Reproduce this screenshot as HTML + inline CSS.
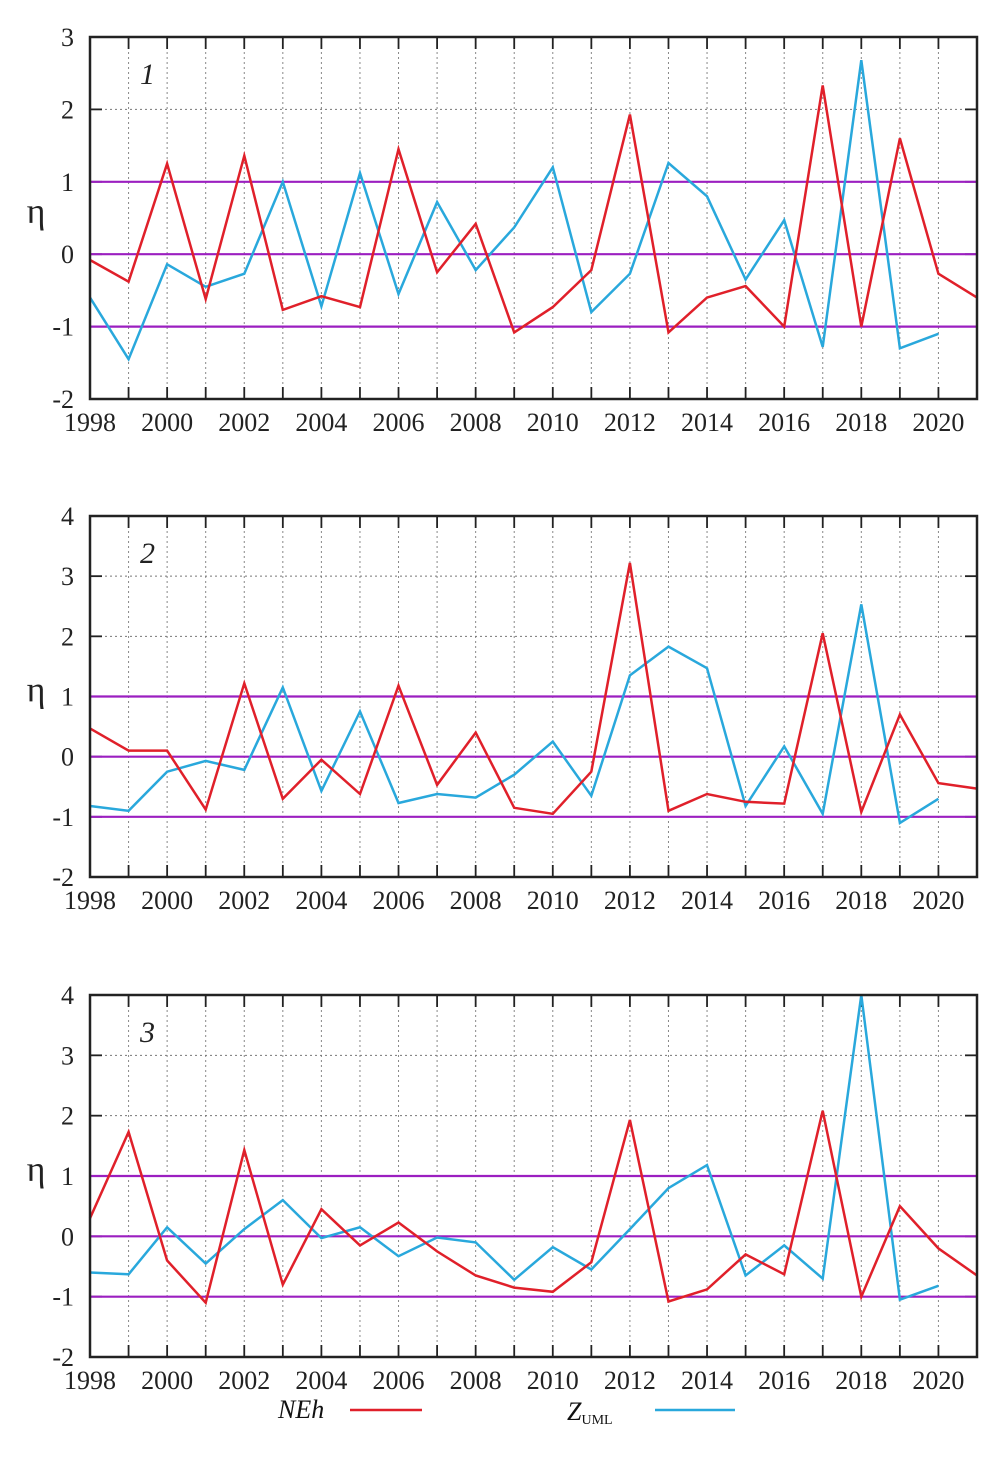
<!DOCTYPE html>
<html><head><meta charset="utf-8"><style>
html,body{margin:0;padding:0;background:#fff;}
svg{display:block;font-family:"Liberation Serif",serif;}
</style></head><body>
<svg id="chart" width="1005" height="1464" viewBox="0 0 1005 1464" xmlns="http://www.w3.org/2000/svg">
<g id="legend">
<g>
<text x="278" y="1418" font-size="26" font-style="italic" fill="#111">NEh</text>
<line x1="350" y1="1410" x2="422" y2="1410" stroke="#e0202a" stroke-width="2.5"/>
</g>
<g>
<text x="567" y="1420" font-size="26" font-style="italic" fill="#111">Z<tspan font-size="14" font-style="normal" dy="4">UML</tspan></text>
<line x1="655" y1="1410" x2="735" y2="1410" stroke="#29a8dc" stroke-width="2.5"/>
</g>
</g>
</svg>
<script>
const years = [1998,1999,2000,2001,2002,2003,2004,2005,2006,2007,2008,2009,2010,2011,2012,2013,2014,2015,2016,2017,2018,2019,2020,2021];
const xTickLabels = [1998,2000,2002,2004,2006,2008,2010,2012,2014,2016,2018,2020];
const neh1 = [-0.08,-0.38,1.25,-0.62,1.36,-0.77,-0.58,-0.73,1.45,-0.25,0.42,-1.08,-0.73,-0.22,1.93,-1.08,-0.6,-0.44,-1.0,2.33,-1.0,1.6,-0.27,-0.6];
const zuml1 = [-0.6,-1.45,-0.14,-0.45,-0.27,1.0,-0.72,1.12,-0.55,0.72,-0.22,0.37,1.2,-0.8,-0.27,1.26,0.8,-0.35,0.47,-1.28,2.68,-1.3,-1.1];
const neh2 = [0.47,0.1,0.1,-0.88,1.22,-0.7,-0.05,-0.62,1.18,-0.47,0.4,-0.85,-0.95,-0.25,3.22,-0.9,-0.62,-0.75,-0.78,2.05,-0.92,0.7,-0.44,-0.53];
const zuml2 = [-0.82,-0.9,-0.25,-0.07,-0.22,1.15,-0.57,0.75,-0.77,-0.62,-0.68,-0.3,0.25,-0.65,1.35,1.83,1.47,-0.82,0.17,-0.95,2.53,-1.1,-0.7];
const neh3 = [0.3,1.73,-0.4,-1.1,1.43,-0.8,0.45,-0.15,0.23,-0.25,-0.65,-0.85,-0.92,-0.43,1.93,-1.08,-0.88,-0.3,-0.63,2.08,-1.0,0.5,-0.2,-0.65];
const zuml3 = [-0.6,-0.63,0.15,-0.45,0.12,0.6,-0.03,0.15,-0.33,-0.02,-0.1,-0.72,-0.18,-0.55,0.12,0.8,1.18,-0.65,-0.15,-0.7,4.0,-1.05,-0.82];
const yTicks1 = [-2,-1,0,1,2,3];
const yTicks23 = [-2,-1,0,1,2,3,4];
const thresholds = [-1,0,1];

const NS = "http://www.w3.org/2000/svg";
const svg = document.getElementById('chart');
function mk(tag, attrs, parent){const e=document.createElementNS(NS,tag);for(const k in attrs)e.setAttribute(k,attrs[k]);(parent||svg).appendChild(e);return e;}

const panels = [
 {label:'1', top:37, bottom:399, ymin:-2, ymax:3, ticks:yTicks1, neh:neh1, z:zuml1},
 {label:'2', top:516, bottom:877, ymin:-2, ymax:4, ticks:yTicks23, neh:neh2, z:zuml2},
 {label:'3', top:995, bottom:1357, ymin:-2, ymax:4, ticks:yTicks23, neh:neh3, z:zuml3}
];
const L=90, R=977;
panels.forEach((p,pi)=>{
  const g = mk('g',{});
  
  
  const xs = yr => L + (yr-1998)/(2021-1998)*(R-L);
  const ys = v => p.bottom - (v-p.ymin)/(p.ymax-p.ymin)*(p.bottom-p.top);
  years.forEach(yr=>{
    if(yr===1998||yr===2021) return;
    const l=mk('line',{x1:xs(yr),x2:xs(yr),y1:p.top,y2:p.bottom,stroke:'#888','stroke-width':1,'stroke-dasharray':'2,3'},g);
    
    
    mk('line',{x1:xs(yr),x2:xs(yr),y1:p.top,y2:p.top+12,stroke:'#222','stroke-width':1.8},g);
    mk('line',{x1:xs(yr),x2:xs(yr),y1:p.bottom,y2:p.bottom-12,stroke:'#222','stroke-width':1.8},g);
  });
  p.ticks.forEach(v=>{
    if(v!==p.ymin && v!==p.ymax && thresholds.indexOf(v)<0){
      const l=mk('line',{x1:L,x2:R,y1:ys(v),y2:ys(v),stroke:'#777','stroke-width':1,'stroke-dasharray':'2,3'},g);
      
      
    }
    mk('line',{x1:L,x2:L+12,y1:ys(v),y2:ys(v),stroke:'#222','stroke-width':1.8},g);
    mk('line',{x1:R,x2:R-12,y1:ys(v),y2:ys(v),stroke:'#222','stroke-width':1.8},g);
    const t=mk('text',{x:L-16,y:ys(v)+9,'text-anchor':'end','font-size':26,fill:'#222'},g);
    t.textContent=v;
    
    
  });
  thresholds.forEach(v=>{
    const l=mk('line',{x1:L,x2:R,y1:ys(v),y2:ys(v),stroke:'#9b1fc0','stroke-width':2.2},g);
    
    
  });
  xTickLabels.forEach(yr=>{
    const t=mk('text',{x:xs(yr),y:p.bottom+32,'text-anchor':'middle','font-size':26,fill:'#222'},g);
    t.textContent=yr;
    
    
  });
  const yl=mk('text',{x:36,y:(p.top+p.bottom)/2+5,'text-anchor':'middle','font-size':36,fill:'#222'},g);
  yl.textContent='η';
  
  
  const pl=mk('text',{x:140,y:p.top+47,'font-size':30,'font-style':'italic',fill:'#222'},g);
  pl.textContent=p.label;
  
  
  const line=(arr,color,name)=>{
    const pts=arr.map((v,i)=>xs(years[i]).toFixed(1)+','+ys(v).toFixed(1)).join(' ');
    const pl=mk('polyline',{points:pts,fill:'none',stroke:color,'stroke-width':2.5,'stroke-linejoin':'miter'},g);
    
    
  };
  line(p.z,'#29a8dc','zuml-line');
  line(p.neh,'#e0202a','neh-line');
  const fr=mk('rect',{x:L,y:p.top,width:R-L,height:p.bottom-p.top,fill:'none',stroke:'#222','stroke-width':2.5},g);
  
  
});
</script>
</body></html>
